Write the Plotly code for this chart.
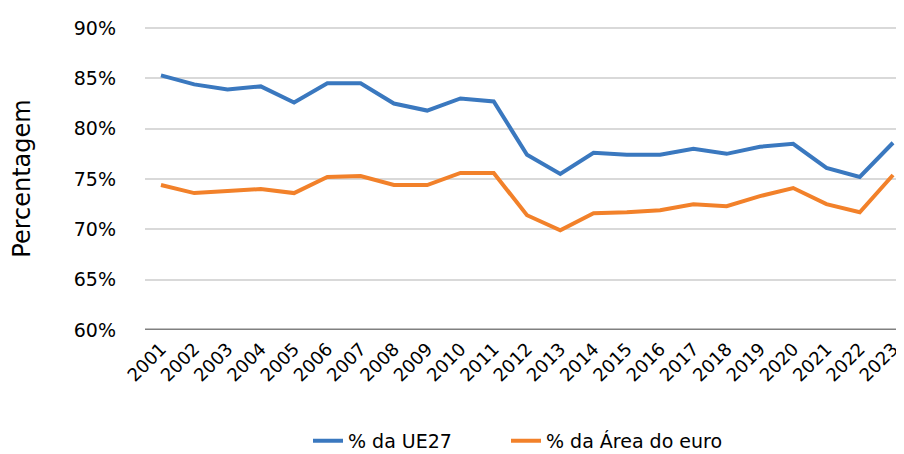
import plotly.graph_objects as go

years = [str(y) for y in range(2001, 2024)]
ue27 = [85.3, 84.4, 83.9, 84.2, 82.6, 84.5, 84.5, 82.5, 81.8, 83.0, 82.7,
        77.4, 75.5, 77.6, 77.4, 77.4, 78.0, 77.5, 78.2, 78.5, 76.1, 75.2, 78.6]
euro = [74.4, 73.6, 73.8, 74.0, 73.6, 75.2, 75.3, 74.4, 74.4, 75.6, 75.6,
        71.4, 69.9, 71.6, 71.7, 71.9, 72.5, 72.3, 73.3, 74.1, 72.5, 71.7, 75.4]
yticks = [60, 65, 70, 75, 80, 85, 90]
ytick_text = [f"{v}%" for v in yticks]

FONT = "DejaVu Sans"

fig = go.Figure()
fig.add_trace(go.Scatter(x=years, y=ue27, mode="lines", name="% da UE27",
                         line=dict(color="#3a78bf", width=4), legend="legend"))
fig.add_trace(go.Scatter(x=years, y=euro, mode="lines", name="% da Área do euro",
                         line=dict(color="#f2812a", width=4), legend="legend2"))

fig.add_shape(type="line", xref="paper", yref="y", x0=0, x1=1, y0=60, y1=60,
              line=dict(color="#808080", width=3), layer="above")

W, H = 896, 446
L, T, B = 137, 19, 124
PW = W - L

leg_common = dict(orientation="h", yanchor="middle", y=-0.366, xanchor="left",
                  font=dict(family=FONT, size=19), bgcolor="rgba(0,0,0,0)")

fig.update_layout(
    width=W, height=H,
    margin=dict(l=L, r=0, t=T, b=B, autoexpand=False),
    plot_bgcolor="white", paper_bgcolor="white",
    font=dict(family=FONT, size=18, color="#000000"),
    showlegend=True,
    legend=dict(x=(300 - L) / PW, **leg_common),
    legend2=dict(x=(498 - L) / PW, **leg_common),
    xaxis=dict(type="category", range=[-0.48, 22.33], tickangle=-45,
               showgrid=False, showline=False, ticks="", automargin=False,
               ticklabelstandoff=4,
               tickfont=dict(family=FONT, size=18)),
    yaxis=dict(range=[60, 90.1], tickvals=yticks, ticktext=ytick_text,
               showgrid=True, gridcolor="#d9d9d9", gridwidth=2,
               zeroline=False, showline=False, ticks="", automargin=False,
               ticklabelstandoff=28,
               tickfont=dict(family=FONT, size=19),
               title=dict(text="Percentagem", font=dict(family=FONT, size=24), standoff=36)),
)

fig.write_html("out.html")
